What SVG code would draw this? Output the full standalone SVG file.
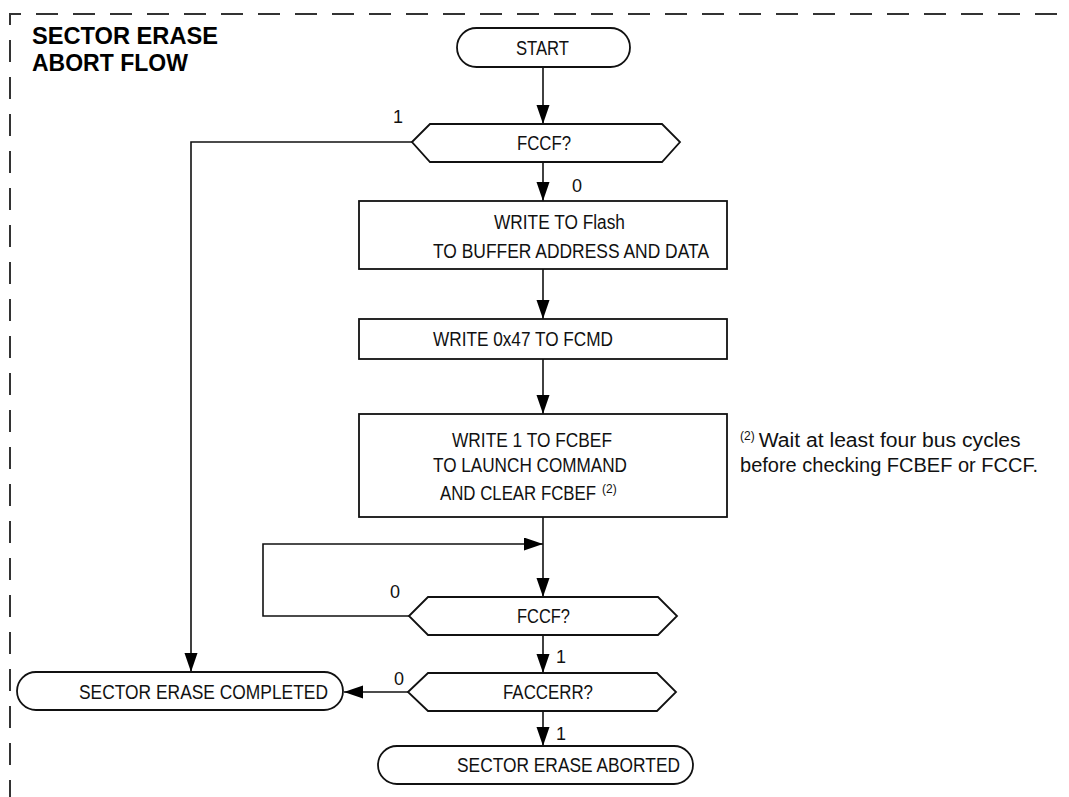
<svg xmlns="http://www.w3.org/2000/svg" width="1069" height="797" viewBox="0 0 1069 797">
<style>
.t{font-family:"Liberation Sans",Arial,sans-serif;font-size:20px;fill:#111}
.lb{font-family:"Liberation Sans",Arial,sans-serif;font-size:18px;fill:#111}
.sup{font-size:12px}
.h{font-family:"Liberation Sans",Arial,sans-serif;font-size:23px;font-weight:bold;fill:#000}
.s{fill:#fff;stroke:#111;stroke-width:1.8}
.c{fill:none;stroke:#111;stroke-width:1.6}
</style>
<defs>
<marker id="ah" markerUnits="userSpaceOnUse" markerWidth="20" markerHeight="14" refX="19" refY="6.5" orient="auto">
<path d="M0,0 L19,6.5 L0,13 z" fill="#000"/>
</marker>
</defs>
<rect width="1069" height="797" fill="#fff"/>
<path d="M10,800 V14 H1069" fill="none" stroke="#333" stroke-width="2" stroke-dasharray="22 15" stroke-dashoffset="2"/>
<g id="title">
<text class="h" x="32" y="44" textLength="186" lengthAdjust="spacingAndGlyphs">SECTOR ERASE</text>
<text class="h" x="32" y="71">ABORT FLOW</text>
</g>
<g id="connectors">
<line class="c" x1="543" y1="67" x2="543" y2="124" marker-end="url(#ah)"/>
<polyline class="c" points="412,142 191,142 191,672" marker-end="url(#ah)"/>
<line class="c" x1="543" y1="162" x2="543" y2="201" marker-end="url(#ah)"/>
<line class="c" x1="543" y1="269" x2="543" y2="319" marker-end="url(#ah)"/>
<line class="c" x1="543" y1="359" x2="543" y2="414" marker-end="url(#ah)"/>
<line class="c" x1="543" y1="517" x2="543" y2="597" marker-end="url(#ah)"/>
<polyline class="c" points="409,616 263,616 263,544 543,544" marker-end="url(#ah)"/>
<line class="c" x1="543" y1="635" x2="543" y2="673" marker-end="url(#ah)"/>
<line class="c" x1="408" y1="692" x2="344" y2="692" marker-end="url(#ah)"/>
<line class="c" x1="543" y1="711" x2="543" y2="746" marker-end="url(#ah)"/>
<text class="lb" x="393" y="123">1</text>
<text class="lb" x="572" y="192">0</text>
<text class="lb" x="390" y="598">0</text>
<text class="lb" x="556" y="663">1</text>
<text class="lb" x="394" y="685">0</text>
<text class="lb" x="556" y="740">1</text>
</g>
<g id="start">
<rect class="s" x="457" y="28" width="173" height="39" rx="19.5"/>
<text class="t" x="516" y="55" textLength="53" lengthAdjust="spacingAndGlyphs">START</text>
</g>
<g id="fccf1">
<polygon class="s" points="412,142 430,124 662,124 680,142 662,162 430,162"/>
<text class="t" x="517" y="150" textLength="54" lengthAdjust="spacingAndGlyphs">FCCF?</text>
</g>
<g id="write-flash">
<rect class="s" x="359" y="201" width="368" height="68"/>
<text class="t" x="494" y="229" textLength="131" lengthAdjust="spacingAndGlyphs">WRITE TO Flash</text>
<text class="t" x="433" y="258" textLength="276" lengthAdjust="spacingAndGlyphs">TO BUFFER ADDRESS AND DATA</text>
</g>
<g id="write-fcmd">
<rect class="s" x="359" y="319" width="368" height="40"/>
<text class="t" x="433" y="346" textLength="180" lengthAdjust="spacingAndGlyphs">WRITE 0x47 TO FCMD</text>
</g>
<g id="write-fcbef">
<rect class="s" x="359" y="414" width="368" height="103"/>
<text class="t" x="452" y="447" textLength="160" lengthAdjust="spacingAndGlyphs">WRITE 1 TO FCBEF</text>
<text class="t" x="433" y="472" textLength="194" lengthAdjust="spacingAndGlyphs">TO LAUNCH COMMAND</text>
<text class="t" x="440" y="500"><tspan textLength="156" lengthAdjust="spacingAndGlyphs">AND CLEAR FCBEF</tspan><tspan class="sup" dx="6" dy="-7">(2)</tspan></text>
</g>
<g id="note">
<text class="t" x="740" y="440"><tspan class="sup">(2)</tspan><tspan dx="4" dy="7" textLength="262" lengthAdjust="spacingAndGlyphs">Wait at least four bus cycles</tspan></text>
<text class="t" x="740" y="472" textLength="298" lengthAdjust="spacingAndGlyphs">before checking FCBEF or FCCF.</text>
</g>
<g id="fccf2">
<polygon class="s" points="409,616 428,597 658,597 677,616 658,635 428,635"/>
<text class="t" x="517" y="623" textLength="53" lengthAdjust="spacingAndGlyphs">FCCF?</text>
</g>
<g id="faccerr">
<polygon class="s" points="408,692 428,673 657,673 676,692 657,711 428,711"/>
<text class="t" x="503" y="699" textLength="90" lengthAdjust="spacingAndGlyphs">FACCERR?</text>
</g>
<g id="completed">
<rect class="s" x="17" y="672" width="326" height="38" rx="19"/>
<text class="t" x="79" y="699" textLength="249" lengthAdjust="spacingAndGlyphs">SECTOR ERASE COMPLETED</text>
</g>
<g id="aborted">
<rect class="s" x="378" y="746" width="315" height="38" rx="19"/>
<text class="t" x="457" y="772" textLength="223" lengthAdjust="spacingAndGlyphs">SECTOR ERASE ABORTED</text>
</g>
</svg>
